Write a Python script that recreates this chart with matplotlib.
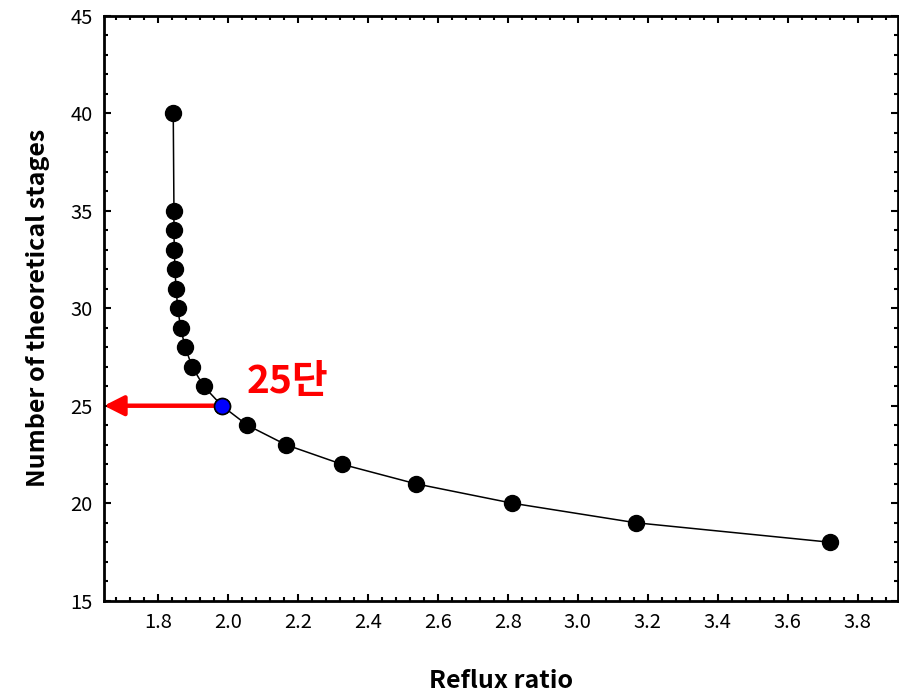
import numpy as np
import matplotlib
matplotlib.use("Agg")
import matplotlib.pyplot as plt
from matplotlib.ticker import MultipleLocator

plt.rcParams['font.family'] = ['Noto Sans CJK KR', 'DejaVu Sans']

# data
reflux_ratio = [1.843, 1.845, 1.845, 1.846, 1.848, 1.851, 1.856, 1.864, 1.877,
                1.897, 1.930, 1.982, 2.055, 2.165, 2.325, 2.536, 2.813, 3.165, 3.721]
stages = [40, 35, 34, 33, 32, 31, 30, 29, 28, 27, 26, 25, 24, 23, 22, 21, 20, 19, 18]
chosen_stage = 25
chosen_label = "25단"

fig = plt.figure(figsize=(8.99, 6.96), dpi=100)
ax = fig.add_axes([0.1157, 0.1369, 0.8833, 0.8405])

ax.plot(reflux_ratio, stages, color='black', lw=1.1, zorder=2)
ax.plot(reflux_ratio, stages, 'o', color='black', ms=11.5, zorder=3)

idx = stages.index(chosen_stage)
ax.plot(reflux_ratio[idx], stages[idx], 'o', mfc='blue', mec='black', mew=1.2,
        ms=11.5, zorder=4)

# red arrow to the y axis
ax.annotate('', xy=(1.645, chosen_stage), xytext=(reflux_ratio[idx] - 0.02, chosen_stage),
            arrowprops=dict(arrowstyle='-|>,head_length=0.85,head_width=0.43',
                            color='red', lw=3.2, shrinkA=0, shrinkB=0,
                            mutation_scale=14),
            zorder=3)
ax.text(2.17, 26.25, chosen_label, color='red', fontsize=28, fontweight='bold',
        ha='center', va='center')

ax.set_xlim(1.645, 3.916)
ax.set_ylim(15, 45)
ax.xaxis.set_major_locator(MultipleLocator(0.2))
ax.xaxis.set_minor_locator(MultipleLocator(0.04))
ax.yaxis.set_major_locator(MultipleLocator(5))
ax.yaxis.set_minor_locator(MultipleLocator(1))
ax.set_xticks(np.arange(1.8, 3.81, 0.2))
ax.set_xticklabels(['%.1f' % v for v in np.arange(1.8, 3.81, 0.2)])

ax.tick_params(which='both', direction='in', top=True, right=True,
               labelsize=14.5, width=1.5)
ax.tick_params(which='major', length=5, pad=8)
ax.tick_params(which='minor', length=3)
for s in ax.spines.values():
    s.set_linewidth(2)

ax.set_xlabel('Reflux ratio', fontsize=18, fontweight='bold', labelpad=26)
ax.set_ylabel('Number of theoretical stages', fontsize=18, fontweight='bold',
              labelpad=15)

fig.savefig('out.png', dpi=100)
